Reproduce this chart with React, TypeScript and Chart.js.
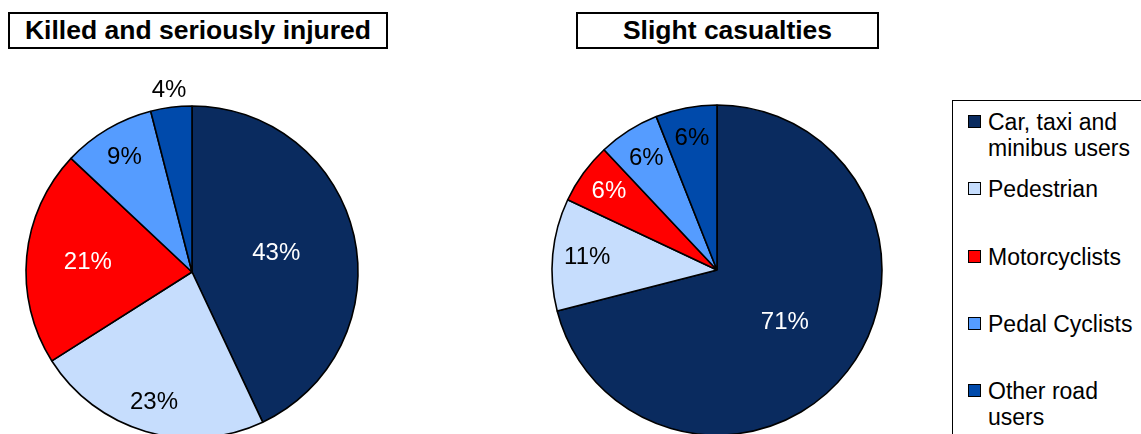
import { useEffect, useRef } from 'react';
import Chart from 'chart.js/auto';
import type { ChartConfiguration, Plugin } from 'chart.js';
import type { RefObject } from 'react';
import React from 'react';

// series data
const categories = [
  'Car, taxi and minibus users',
  'Pedestrian',
  'Motorcyclists',
  'Pedal Cyclists',
  'Other road users',
];
const ksiValues = [43, 23, 21, 9, 4];
const slightValues = [71, 11, 6, 6, 6];

const sliceColors = ['#0a2b5f', '#c6ddfd', '#ff0000', '#559cff', '#004aab'];
const labelColors = ['#ffffff', '#000000', '#ffffff', '#000000', '#000000'];

// how far out (fraction of the radius) each percentage label sits
const ksiLabelRadius = [0.52, 0.82, 0.63, 0.8, 1.1];
const slightLabelRadius = [0.52, 0.79, 0.81, 0.8, 0.81];

const FONT = '"Liberation Sans", Arial, sans-serif';

const pctLabels: Plugin<'pie'> = {
  id: 'pctLabels',
  afterDatasetsDraw(chart, _args, opts: any) {
    const ctx = chart.ctx;
    const meta = chart.getDatasetMeta(0);
    const values = chart.data.datasets[0].data as number[];
    ctx.save();
    ctx.font = `24px ${FONT}`;
    ctx.textAlign = 'center';
    ctx.textBaseline = 'middle';
    meta.data.forEach((arc: any, i) => {
      const { x, y, startAngle, endAngle, outerRadius } = arc.getProps(
        ['x', 'y', 'startAngle', 'endAngle', 'outerRadius'],
        true,
      );
      const mid = (startAngle + endAngle) / 2;
      const r = outerRadius * opts.radii[i];
      ctx.fillStyle = labelColors[i];
      ctx.fillText(`${values[i]}%`, x + Math.cos(mid) * r, y + Math.sin(mid) * r);
    });
    ctx.restore();
  },
};

interface PieProps {
  values: number[];
  radii: number[];
  left: number;
  top: number;
  width: number;
  height: number;
  radius: number;
}

const Pie = ({ values, radii, left, top, width, height, radius }: PieProps) => {
  const canvasRef: RefObject<HTMLCanvasElement> = useRef(null);

  useEffect(() => {
    if (!canvasRef.current) {
      return;
    }

    const config: ChartConfiguration<'pie'> = {
      type: 'pie',
      data: {
        labels: categories,
        datasets: [
          {
            data: values,
            backgroundColor: sliceColors,
            borderColor: '#000000',
            borderWidth: 1.6,
          },
        ],
      },
      options: {
        animation: false,
        responsive: false,
        radius,
        layout: { padding: 0 },
        plugins: {
          legend: { display: false },
          tooltip: { enabled: false },
          pctLabels: { radii },
        } as any,
      },
      plugins: [pctLabels],
    };

    const chart = new Chart(canvasRef.current, config);

    return () => {
      chart.destroy();
    };
  }, [values, radii, radius]);

  return (
    <canvas
      ref={canvasRef}
      width={width}
      height={height}
      style={{ position: 'absolute', left, top, width, height }}
    />
  );
};

const TitleBox = ({ text, left, width }: { text: string; left: number; width: number }) => (
  <div
    style={{
      position: 'absolute',
      left,
      top: 12,
      width,
      height: 37,
      boxSizing: 'border-box',
      border: '2px solid #000',
      fontFamily: FONT,
      fontWeight: 'bold',
      fontSize: 26.5,
      lineHeight: '33px',
      textAlign: 'center',
      color: '#000',
      whiteSpace: 'nowrap',
    }}
  >
    {text}
  </div>
);

const App = () => {
  return (
    <div
      style={{
        position: 'absolute',
        left: 0,
        top: 0,
        width: 1141,
        height: 434,
        overflow: 'hidden',
        background: '#fff',
      }}
    >
      <TitleBox text="Killed and seriously injured" left={8} width={380} />
      <TitleBox text="Slight casualties" left={576} width={303} />

      <Pie values={ksiValues} radii={ksiLabelRadius} left={1.5} top={71.5} width={380} height={400} radius={166} />
      <Pie values={slightValues} radii={slightLabelRadius} left={526.7} top={80} width={380} height={380} radius={165} />

      <div
        style={{
          position: 'absolute',
          left: 952,
          top: 100,
          width: 220,
          height: 400,
          boxSizing: 'border-box',
          border: '1.5px solid #000',
        }}
      />
      {categories.map((c, i) => (
        <div
          key={c}
          style={{
            position: 'absolute',
            left: 968,
            top: 109 + i * 67.3,
            display: 'flex',
            alignItems: 'flex-start',
            fontFamily: FONT,
            fontSize: 23,
            lineHeight: '26px',
            color: '#000',
          }}
        >
          <span
            style={{
              display: 'inline-block',
              width: 11,
              height: 11,
              marginTop: 6,
              marginRight: 7,
              background: sliceColors[i],
              border: '1.5px solid #000',
              flexShrink: 0,
            }}
          />
          <span style={{ width: 155 }}>{c}</span>
        </div>
      ))}
    </div>
  );
};

export default App;
